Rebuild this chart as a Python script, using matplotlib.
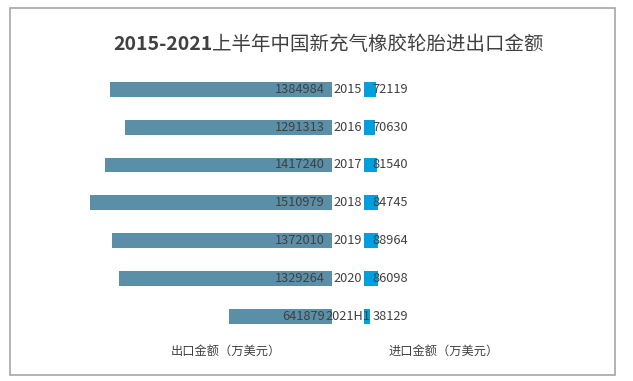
import matplotlib
matplotlib.use("Agg")
import matplotlib.pyplot as plt
from matplotlib.patches import Rectangle

plt.rcParams['font.family'] = ['Noto Sans CJK SC', 'DejaVu Sans']

years = ["2015", "2016", "2017", "2018", "2019", "2020", "2021H1"]
exports = [1384984, 1291313, 1417240, 1510979, 1372010, 1329264, 641879]
imports = [72119, 70630, 81540, 84745, 88964, 86098, 38129]

W, H = 633, 381
gap = 100000          # half the empty space around the year labels
px = 6240             # data units per pixel
x0 = 348              # pixel x of the centre line

fig = plt.figure(figsize=(W / 100, H / 100), dpi=100)
fig.patch.set_facecolor("white")

# grey frame
fig.patches.append(Rectangle((10 / W, 1 - 375 / H), 605 / W, 367 / H,
                             transform=fig.transFigure, fill=False,
                             edgecolor="#A6A6A6", linewidth=1.2))

ax_left, ax_right = 20, 610
top, bottom = 70.4, 335.2
ax = fig.add_axes([ax_left / W, 1 - bottom / H, (ax_right - ax_left) / W, (bottom - top) / H])
ax.set_xlim((ax_left - x0) * px, (ax_right - x0) * px)
ax.set_ylim(len(years) - 0.5, -0.5)
ax.axis("off")

pos = list(range(len(years)))
ax.barh(pos, [-v for v in exports], left=-gap, height=0.39, color="#5B8FA7")
ax.barh(pos, imports, left=gap, height=0.39, color="#00A0DE")

txt = "#404040"
for i in pos:
    ax.text(-gap - 7 * px, i, str(exports[i]), ha="right", va="center", fontsize=9.2, color=txt)
    ax.text(0, i, years[i], ha="center", va="center", fontsize=9.2, color=txt)
    ax.text(gap + 8.5 * px, i, str(imports[i]), ha="left", va="center", fontsize=9.2, color=txt)

# title: bold digits, regular-weight Chinese part, placed side by side
t1 = fig.text(113 / W, 1 - 45 / H, "2015-2021", ha="left", va="center",
              fontsize=14, fontweight="bold", color="#404040")
fig.canvas.draw()
bb = t1.get_window_extent()
fig.text(bb.x1 / W, 1 - 45 / H, "上半年中国新充气橡胶轮胎进出口金额", ha="left", va="center",
         fontsize=14, fontweight="medium", color="#404040")

fig.text(226 / W, 1 - 351 / H, "出口金额（万美元）", ha="center", va="center", fontsize=8.8, color=txt)
fig.text(444 / W, 1 - 351 / H, "进口金额（万美元）", ha="center", va="center", fontsize=8.8, color=txt)

fig.savefig("out.png", dpi=100)
